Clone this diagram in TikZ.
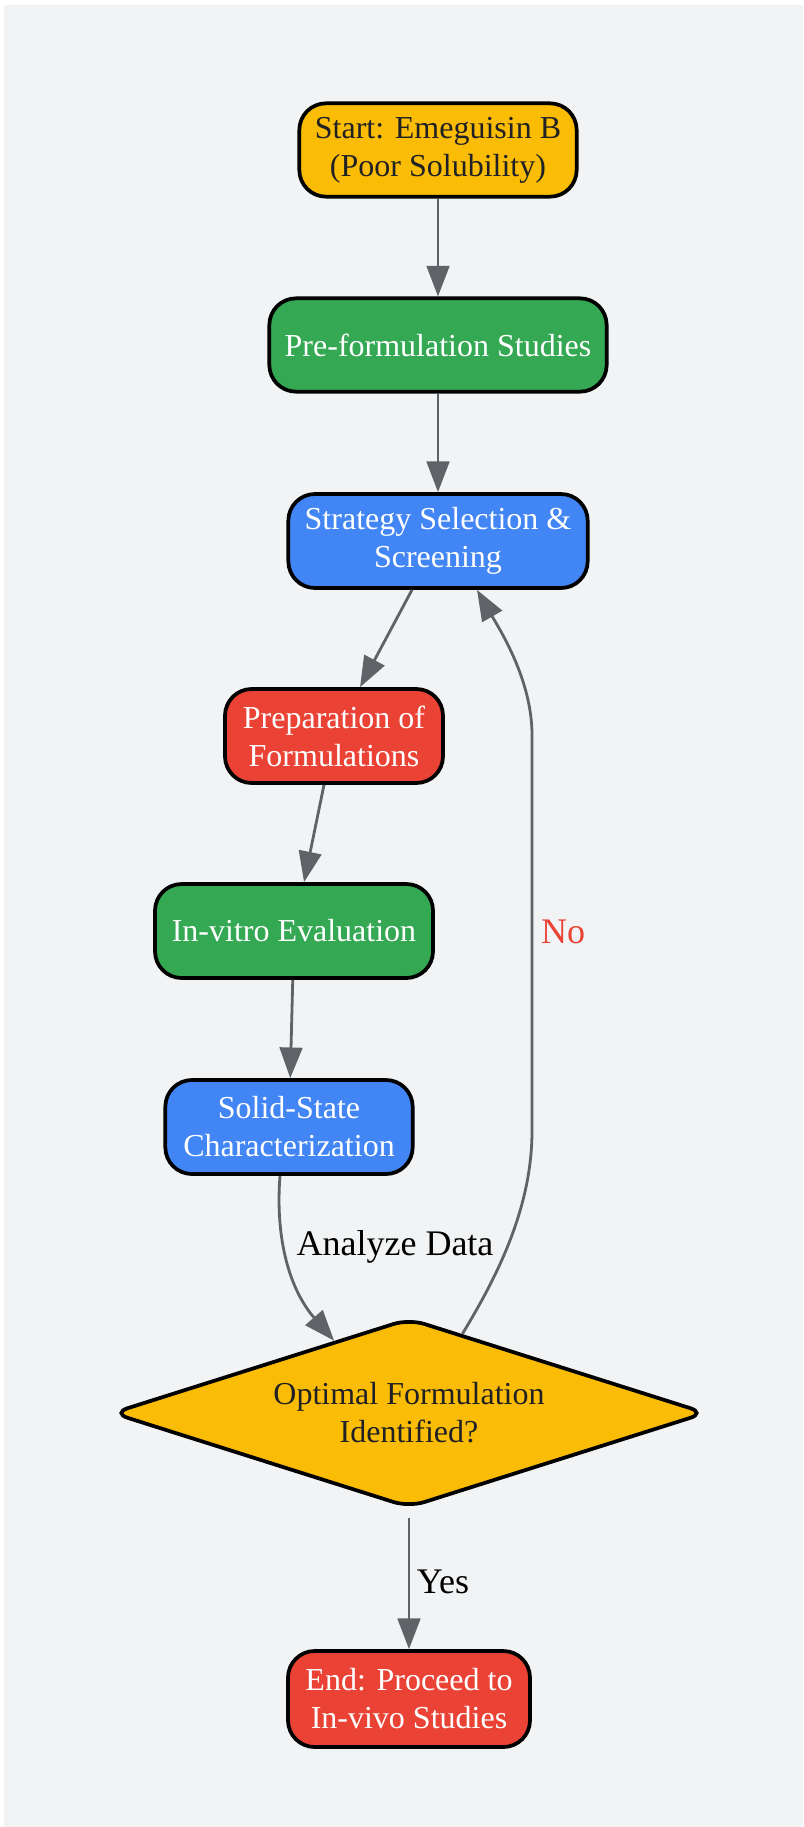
\documentclass[tikz,border=0pt]{standalone}
\usepackage{fontspec}
\setmainfont{Liberation Serif}
\usetikzlibrary{shapes.geometric,arrows.meta,calc}
\definecolor{bg}{HTML}{F1F3F4}
\definecolor{gyellow}{HTML}{FBBC05}
\definecolor{ggreen}{HTML}{34A853}
\definecolor{gblue}{HTML}{4285F4}
\definecolor{gred}{HTML}{EA4335}
\definecolor{edgegray}{HTML}{5F6368}
\definecolor{darktext}{HTML}{202124}
\begin{document}
\begin{tikzpicture}[x=0.75pt,y=-0.75pt,
  box/.style={draw=black, line width=2.8pt, rounded corners=20pt, align=center,
    inner sep=0pt, font=\fontsize{24}{28.5}\selectfont},
  yel/.style={box, fill=gyellow, text=darktext},
  grn/.style={box, fill=ggreen, text=white},
  blu/.style={box, fill=gblue, text=white},
  rd/.style={box, fill=gred, text=white},
  conn/.style={draw=edgegray, line width=2.1pt, -{Triangle[length=23pt,width=17pt]}},
  lbl/.style={font=\fontsize{27}{32}\selectfont, inner sep=0pt}]
\useasboundingbox (0,0) rectangle (803,1827);
\fill[bg] (4,5) rectangle (803,1827);

\node[yel, minimum width=208pt, minimum height=70pt] (start) at (438,150) {Start: Emeguisin B\\(Poor Solubility)};
\node[grn, minimum width=253pt, minimum height=70pt] (pre) at (438,345) {Pre-formulation Studies};
\node[blu, minimum width=224.5pt, minimum height=70.5pt] (stra) at (438,541) {Strategy Selection \&\\Screening};
\node[rd, minimum width=163.5pt, minimum height=70.5pt] (prep) at (334,736) {Preparation of\\Formulations};
\node[grn, minimum width=208.5pt, minimum height=70.5pt] (inv) at (294,931) {In-vitro Evaluation};
\node[blu, minimum width=185.5pt, minimum height=70.5pt] (sol) at (289,1127) {Solid-State\\Characterization};
\node[yel, shape=diamond, aspect=3.14, rounded corners=12pt, minimum width=446pt, minimum height=142pt] (dec) at (409,1413) {Optimal Formulation\\Identified?};
\node[rd, minimum width=181.5pt, minimum height=72pt] (end) at (409,1699) {End: Proceed to\\In-vivo Studies};

\draw[conn] (start) -- (pre);
\draw[conn] (pre) -- (stra);
\draw[conn] (stra) -- (prep);
\draw[conn] (prep) -- (inv);
\draw[conn] (inv) -- (sol);
\draw[conn] ($(sol.south)+(-9,0)$) .. controls (275,1240) and (290,1290) .. (dec.136);
\draw[conn] (dec.56) .. controls (495,1280) and (532,1210) .. (532,1131) -- (532,735) .. controls (532,680) and (500,630) .. ($(stra.south)+(39,0)$);
\draw[conn, shorten <=6pt] (dec) -- (end);

\node[lbl, text=black] (lad) at (395,1247) {Analyze Data};
\node[lbl, text=gred] (lno) at (563,932) {No};
\node[lbl, text=black] (lyes) at (443,1582) {Yes};
\end{tikzpicture}
\end{document}
